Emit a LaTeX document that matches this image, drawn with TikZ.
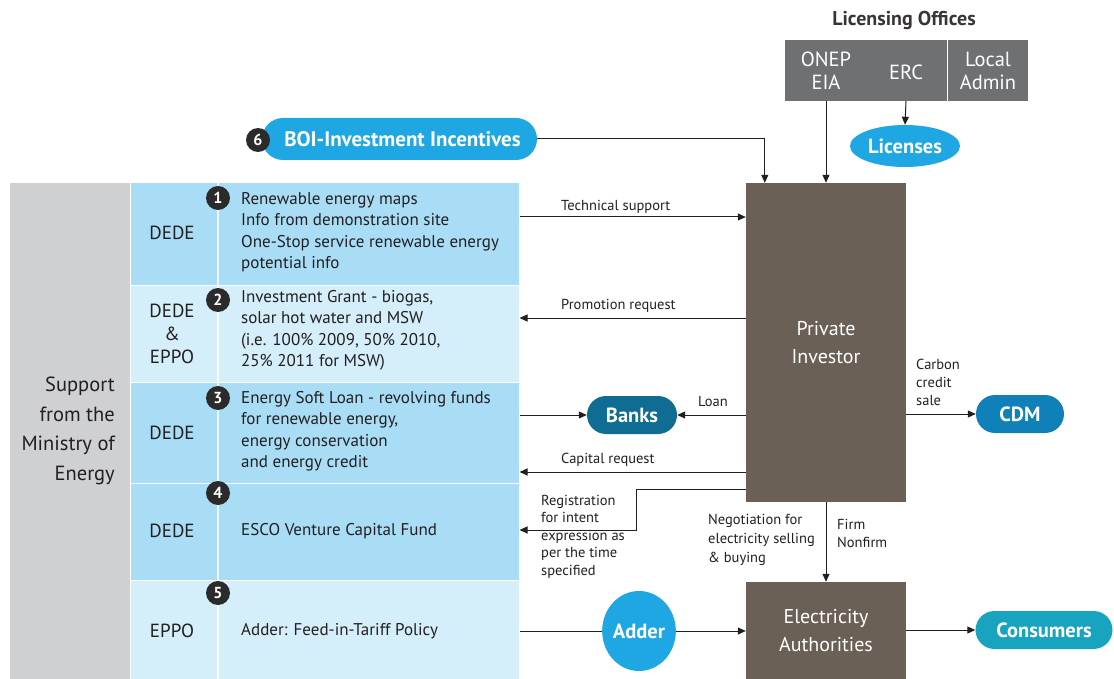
\documentclass[tikz,border=0pt]{standalone}
\usepackage{fontspec}
\setmainfont{PT Sans}
\usetikzlibrary{arrows.meta,shapes.geometric,calc}

\definecolor{panelgrey}{HTML}{CFD0D2}
\definecolor{rowmid}{HTML}{A9DDF5}
\definecolor{rowlight}{HTML}{D4EEFA}
\definecolor{boxbrown}{HTML}{6B6056}
\definecolor{officegrey}{HTML}{6F7072}
\definecolor{numdark}{HTML}{2B2B2B}
\definecolor{pillblue}{HTML}{1EA7E3}
\definecolor{bankblue}{HTML}{0F6D94}
\definecolor{cdmblue}{HTML}{0F80B8}
\definecolor{consteal}{HTML}{18A4BF}
\definecolor{inktext}{HTML}{231F20}

\tikzset{
  arr/.style={draw=inktext, line width=1pt, -{Triangle[length=8pt,width=7pt]}},
  plainline/.style={draw=inktext, line width=1pt},
  rowbox/.style={draw=white, line width=1pt, minimum width=389pt, inner sep=0pt},
  numdot/.style={circle, fill=numdark, text=white, minimum size=24pt, inner sep=0pt,
    font=\fontsize{16}{16}\selectfont\bfseries},
  orgname/.style={font=\fontsize{19}{23}\selectfont, text=inktext, align=center, inner sep=0pt},
  desc/.style={font=\fontsize{17}{21.5}\selectfont, text=inktext, align=left, inner sep=0pt, anchor=north west},
  flowlabel/.style={font=\fontsize{14.5}{17.5}\selectfont, text=inktext, align=left, inner sep=0pt},
  brownbox/.style={fill=boxbrown, text=white, minimum width=160pt, inner sep=0pt,
    align=center, font=\fontsize{20}{28}\selectfont},
  pill/.style={rounded corners=19pt, minimum height=38pt, inner sep=0pt, text=white,
    font=\fontsize{20.5}{20.5}\selectfont\bfseries},
  oval/.style={ellipse, inner sep=0pt, text=white, fill=pillblue,
    font=\fontsize{20.5}{20.5}\selectfont\bfseries},
  office/.style={fill=officegrey, minimum height=61pt, inner sep=0pt},
  officetext/.style={text=white, align=center, inner sep=0pt, font=\fontsize{20.5}{23}\selectfont}
}

\begin{document}
\begin{tikzpicture}[x=1pt,y=-1pt]
\useasboundingbox (0,0) rectangle (1114,679);
\fill[white] (0,0) rectangle (1114,679);

% Ministry column
\fill[panelgrey] (10,183) rectangle (130,679);
\node[font=\fontsize{20.5}{29.5}\selectfont, text=inktext, align=right, inner sep=0pt, anchor=north east]
  (ministry) at (115,377) {Support\\from the\\Ministry of\\Energy};

% Support programme rows
\node[rowbox, fill=rowmid,   minimum height=102pt] (r1) at (324.5,234) {};
\node[rowbox, fill=rowlight, minimum height=97pt]  (r2) at (324.5,333.5) {};
\node[rowbox, fill=rowmid,   minimum height=101pt] (r3) at (324.5,432.5) {};
\node[rowbox, fill=rowmid,   minimum height=97pt]  (r4) at (324.5,531.5) {};
\node[rowbox, fill=rowlight, minimum height=99pt]  (r5) at (324.5,629.5) {};
\draw[white, line width=1.2pt, opacity=0.8] (218,183) -- (218,679);

% Agencies
\node[orgname] (a1) at (172,233) {DEDE};
\node[orgname] (a2) at (172,334) {DEDE\\\&\\EPPO};
\node[orgname] (a3) at (172,433) {DEDE};
\node[orgname] (a4) at (172,531) {DEDE};
\node[orgname] (a5) at (172,631) {EPPO};

% Programme numbers
\node[numdot] (n1) at (218,198) {1};
\node[numdot] (n2) at (218,300) {2};
\node[numdot] (n3) at (218,398) {3};
\node[numdot] (n4) at (218,493) {4};
\node[numdot] (n5) at (218,593) {5};

% Programme descriptions
\node[desc] (d1) at (241,192) {Renewable energy maps\\Info from demonstration site\\One-Stop service renewable energy\\potential info};
\node[desc] (d2) at (241,290) {Investment Grant - biogas,\\solar hot water and MSW\\(i.e. 100\% 2009, 50\% 2010,\\25\% 2011 for MSW)};
\node[desc] (d3) at (241,391) {Energy Soft Loan - revolving funds\\for renewable energy,\\energy conservation\\and energy credit};
\node[desc, anchor=west] (d4) at (241,531) {ESCO Venture Capital Fund};
\node[desc, anchor=west] (d5) at (241,631) {Adder: Feed-in-Tariff Policy};

% Main actors
\node[brownbox, minimum height=319pt] (pi) at (826,342.5) {Private\\Investor};
\node[brownbox, minimum height=97pt] (ea) at (826,630.5) {Electricity\\Authorities};

% Licensing offices
\node[font=\fontsize{20}{20}\selectfont\bfseries, text=inktext!90] (lictitle) at (904,20) {Licensing Offices};
\node[office, minimum width=162pt] (lic1) at (866,70.5) {};
\node[office, minimum width=80pt] (lic2) at (988,70.5) {};
\node[officetext] (onep) at (826,70.5) {ONEP\\EIA};
\node[officetext] (erc) at (906,72) {ERC};
\node[officetext] (local) at (988,70.5) {Local\\Admin};
\node[oval, minimum width=110pt, minimum height=42pt] (lics) at (905,146) {Licenses};

% Investment incentives
\node[pill, fill=pillblue, minimum width=275pt, rounded corners=21pt, minimum height=42pt,
  font=\fontsize{21}{21}\selectfont\bfseries] (boi) at (399.5,139) {\hspace*{6pt}BOI-Investment Incentives};
\node[numdot] (n6) at (258,140) {6};

% Partner nodes
\node[pill, fill=bankblue, minimum width=90pt] (banks) at (632,415) {Banks};
\node[pill, fill=cdmblue, minimum width=88pt] (cdm) at (1020,414) {CDM};
\node[pill, fill=consteal, minimum width=137pt] (cons) at (1044,630) {Consumers};
\node[oval, fill=pillblue, minimum width=70pt, minimum height=80pt] (adder) at (639,631) {Adder};

% Connectors
\draw[arr] (onep |- lic1.south) -- (onep |- pi.north);
\draw[arr] (erc |- lic1.south) -- (lics.north);
\draw[arr] (boi.east) -| ([xshift=19pt]pi.north west);

\draw[arr] (r1.east |- 0,217) -- (pi.west |- 0,217);
\node[flowlabel, anchor=west] (l1) at (561,207) {Technical support};
\draw[arr] (pi.west |- 0,318) -- (r2.east |- 0,318);
\node[flowlabel, anchor=west] (l2) at (561,306) {Promotion request};

\draw[arr] (r3.east |- banks) -- (banks.west);
\draw[arr] (pi.west |- banks) -- (banks.east);
\node[flowlabel, anchor=west] (l3) at (698,402) {Loan};
\draw[arr] (pi.west |- 0,472) -- (r3.east |- 0,472);
\node[flowlabel, anchor=west] (l4) at (561,460) {Capital request};

\draw[arr] (pi.west |- 0,489) -| (636,530) -- (r4.east |- 0,530);
\node[flowlabel, anchor=north west] (l5) at (541,495) {Registration\\for intent\\expression as\\per the time\\specified};

\draw[plainline] (r5.east |- adder) -- (adder.west);
\draw[arr] (adder.east) -- (ea.west |- adder);

\draw[arr] (pi.south) -- (ea.north);
\node[flowlabel, anchor=north west, font=\fontsize{14.5}{19}\selectfont] (l6) at (708,514) {Negotiation for\\electricity selling\\\& buying};
\node[flowlabel, anchor=north west, font=\fontsize{14.5}{18}\selectfont] (l7) at (837,519) {Firm\\Nonfirm};

\draw[arr] (pi.east |- cdm) -- (cdm.west);
\node[flowlabel, anchor=north west, font=\fontsize{14.5}{18}\selectfont] (l8) at (916,359) {Carbon\\credit\\sale};

\draw[arr] (ea.east |- cons) -- (cons.west);
\end{tikzpicture}
\end{document}
